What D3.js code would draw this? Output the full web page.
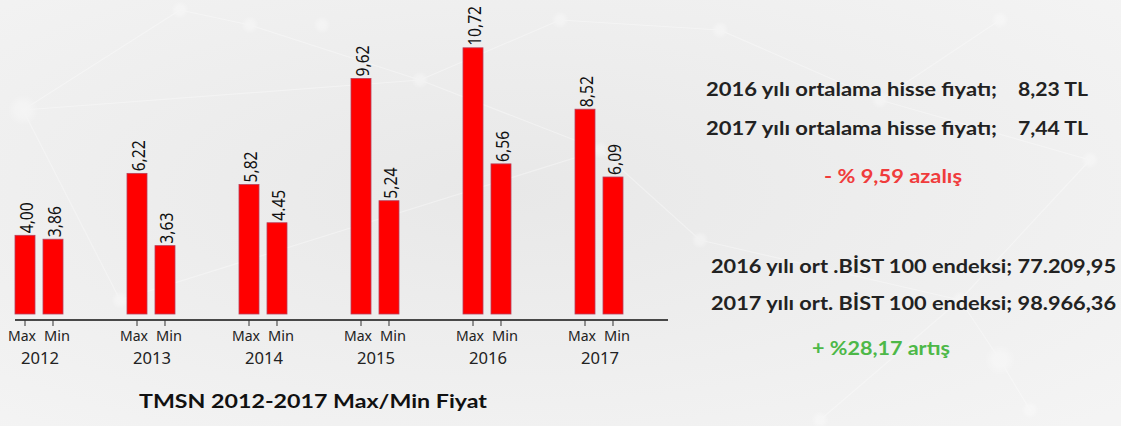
<!DOCTYPE html>
<html>
<head>
<meta charset="utf-8">
<script src="https://cdn.jsdelivr.net/npm/d3@7"></script>
<style>
  body { margin: 0; background: #eeeeee; }
  svg { display: block; }
</style>
</head>
<body>
<div id="chart"></div>
<script>
const years = ["2012", "2013", "2014", "2015", "2016", "2017"];
const kinds = ["Max", "Min"];
const maxValues = [4.00, 6.22, 5.82, 9.62, 10.72, 8.52];
const minValues = [3.86, 3.63, 4.45, 5.24, 6.56, 6.09];
const maxLabels = ["4,00", "6,22", "5,82", "9,62", "10,72", "8,52"];
const minLabels = ["3,86", "3,63", "4.45", "5,24", "6,56", "6,09"];
const title = "TMSN 2012-2017 Max/Min Fiyat";

const priceLines = [
    ["2016 yılı ortalama hisse fiyatı;", "8,23 TL"],
    ["2017 yılı ortalama hisse fiyatı;", "7,44 TL"]
];
const priceChange = "- % 9,59 azalış";
const indexLines = [
    "2016 yılı ort .BİST 100 endeksi; 77.209,95",
    "2017 yılı ort. BİST 100 endeksi; 98.966,36"
];
const indexChange = "+ %28,17 artış";

const W = 1121, H = 426;
const svg = d3.select("#chart").append("svg")
    .attr("width", W).attr("height", H);

const fit = (sel, len) => sel.attr("textLength", len).attr("lengthAdjust", "spacingAndGlyphs");

// background
const defs = svg.append("defs");
const bg = defs.append("radialGradient").attr("id", "bg")
    .attr("cx", "45%").attr("cy", "45%").attr("r", "75%");
bg.append("stop").attr("offset", "0%").attr("stop-color", "#e8e8e8");
bg.append("stop").attr("offset", "100%").attr("stop-color", "#f4f4f4");
const glow = defs.append("radialGradient").attr("id", "glow");
glow.append("stop").attr("offset", "0%").attr("stop-color", "#fff").attr("stop-opacity", 1);
glow.append("stop").attr("offset", "45%").attr("stop-color", "#fff").attr("stop-opacity", 0.9);
glow.append("stop").attr("offset", "100%").attr("stop-color", "#fff").attr("stop-opacity", 0);

svg.append("rect").attr("width", W).attr("height", H).attr("fill", "url(#bg)");

// faint network decoration
const nodes = [[23, 110], [180, 10], [250, 25], [322, 25], [420, 80], [560, 20], [720, 30],
               [880, 100], [1000, 20], [1090, 160], [960, 300], [1000, 360], [820, 420],
               [1030, 410], [600, 150], [120, 300], [700, 240]];
const links = [[0, 1], [0, 4], [1, 2], [2, 4], [4, 5], [5, 6], [6, 7], [7, 8], [7, 9],
               [9, 10], [10, 11], [11, 13], [10, 12], [4, 14], [14, 16], [16, 10], [0, 15], [15, 14]];
const deco = svg.append("g").attr("opacity", 0.35);
deco.selectAll("line").data(links).join("line")
    .attr("x1", d => nodes[d[0]][0]).attr("y1", d => nodes[d[0]][1])
    .attr("x2", d => nodes[d[1]][0]).attr("y2", d => nodes[d[1]][1])
    .attr("stroke", "#ffffff").attr("stroke-width", 1.2);
deco.selectAll("circle").data(nodes).join("circle")
    .attr("cx", d => d[0]).attr("cy", d => d[1])
    .attr("r", (d, i) => i === 0 || i === 11 ? 16 : 9)
    .attr("fill", "url(#glow)");

// chart
const baseY = 314, axisY = 320;
const x = d3.scalePoint().domain(years).range([39, 599]);
const xs = d3.scaleBand().domain(kinds).range([-24, 24]).paddingInner(0.2857);
const y = d3.scaleLinear().domain([1.18, 11]).range([baseY, 40]);
const cx = d => x(d.year) + xs(d.kind) + xs.bandwidth() / 2;

const rows = years.map((yr, i) => [
    { year: yr, kind: "Max", v: maxValues[i], label: maxLabels[i] },
    { year: yr, kind: "Min", v: minValues[i], label: minLabels[i] }
]).flat();

const g = svg.append("g");
g.selectAll("rect.bar").data(rows).join("rect")
    .attr("class", "bar")
    .attr("x", d => x(d.year) + xs(d.kind))
    .attr("y", d => y(d.v))
    .attr("width", xs.bandwidth())
    .attr("height", d => baseY - y(d.v))
    .attr("fill", "#ff0000")
    .attr("stroke", "#b8405a")
    .attr("stroke-width", 0.8);

// rotated value labels, widths matched to the picture
const labelLen = s => s.replace(/[,.]/g, "").length * 8.7 + 5;
g.selectAll("text.val").data(rows).join("text")
    .attr("class", "val")
    .attr("transform", d => `translate(${cx(d) + 8},${y(d.v) - 2}) rotate(-90)`)
    .attr("font-family", "'Noto Sans', sans-serif")
    .attr("font-size", 17.5)
    .attr("fill", "#111")
    .text(d => d.label)
    .call(sel => sel.attr("textLength", d => labelLen(d.label)).attr("lengthAdjust", "spacingAndGlyphs"));

// axis
g.append("line")
    .attr("x1", 15).attr("x2", 668)
    .attr("y1", axisY).attr("y2", axisY)
    .attr("stroke", "#111").attr("stroke-width", 1.3);
g.selectAll("line.tick").data(rows).join("line")
    .attr("class", "tick")
    .attr("x1", cx).attr("x2", cx)
    .attr("y1", axisY).attr("y2", axisY + 6)
    .attr("stroke", "#333").attr("stroke-width", 1);
g.selectAll("text.kind").data(rows).join("text")
    .attr("class", "kind")
    .attr("x", d => cx(d) + (d.kind === "Max" ? -3 : 4))
    .attr("y", 341)
    .attr("text-anchor", "middle")
    .attr("font-family", "'Noto Sans', sans-serif")
    .attr("font-size", 14)
    .attr("fill", "#222")
    .text(d => d.kind)
    .call(sel => sel.attr("textLength", d => d.kind === "Max" ? 28 : 26).attr("lengthAdjust", "spacingAndGlyphs"));
g.selectAll("text.year").data(years).join("text")
    .attr("class", "year")
    .attr("x", d => x(d) + 1)
    .attr("y", 364)
    .attr("text-anchor", "middle")
    .attr("font-family", "'Noto Sans', sans-serif")
    .attr("font-size", 17)
    .attr("fill", "#222")
    .text(d => d)
    .call(fit, 38);

fit(svg.append("text")
    .attr("x", 139).attr("y", 408)
    .attr("font-family", "Lato, sans-serif")
    .attr("font-weight", 700)
    .attr("font-size", 18)
    .attr("fill", "#111")
    .text(title), 348);

// right side notes
const notes = svg.append("g")
    .attr("font-family", "Lato, sans-serif")
    .attr("font-weight", 700)
    .attr("font-size", 18)
    .attr("fill", "#222");
priceLines.forEach((p, i) => {
    fit(notes.append("text").attr("x", 706).attr("y", 96 + i * 39).text(p[0]), 291);
    fit(notes.append("text").attr("x", 1018).attr("y", 96 + i * 39).text(p[1]), 70);
});
fit(notes.append("text").attr("x", 824).attr("y", 183)
    .attr("fill", "#f03c3c").text(priceChange), 138);
indexLines.forEach((t, i) => {
    fit(notes.append("text").attr("x", 711).attr("y", 273 + i * 37).text(t), 405);
});
fit(notes.append("text").attr("x", 812).attr("y", 355)
    .attr("fill", "#4db848").text(indexChange), 138);
</script>
</body>
</html>
